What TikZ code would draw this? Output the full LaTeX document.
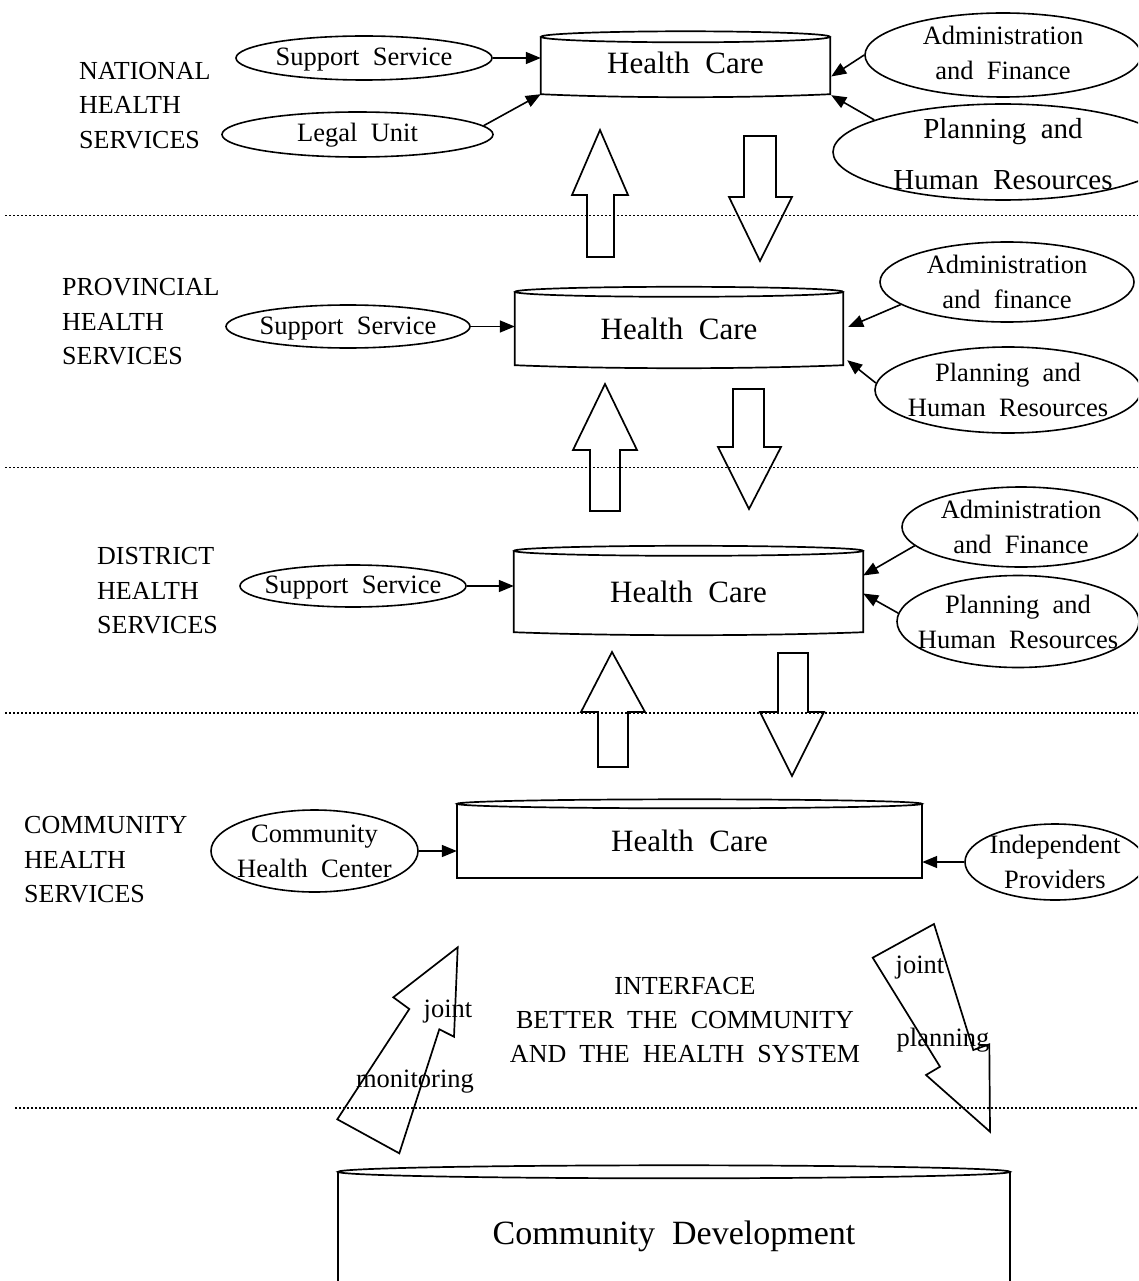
\documentclass[tikz,border=0pt]{standalone}
\usepackage{fontspec}
\setmainfont{Liberation Serif}
\usetikzlibrary{shapes.geometric,arrows.meta,calc}
\newcommand\wsp{\hspace{0.5em}}
\newcommand\fsz[2]{\fontsize{#1}{#2}\selectfont}
\newcommand\cylsides[4]{%
  \draw[outl] (#1.north west) -- (#1.south west) .. controls ($(#1.south west)+(#2*0.6,#4)$) and ($(#1.south east)+(-#2*0.6,#4)$) .. (#1.south east) -- (#1.north east);
  \draw[outl] (#1.north) ellipse [x radius=#2, y radius=#3];
}
\begin{document}
\begin{tikzpicture}[x=1pt,y=-1pt,
  outl/.style={line width=1.7pt, black},
  ell/.style={ellipse, draw, line width=1.6pt, inner sep=0pt},
  lab/.style={font=\fsz{26.5}{35}, align=center, inner sep=0pt},
  conn/.style={line width=1.6pt, -{Triangle[length=15pt,width=12pt]}},
  dots/.style={line width=1.1pt, dash pattern=on 2pt off 2pt},
  blk/.style={line width=1.7pt, line join=miter},
  lvl/.style={anchor=west, align=left, font=\fsz{26}{34.5}, inner sep=0pt},
  hc/.style={inner sep=0pt, font=\fsz{31}{36}},
  small/.style={font=\fsz{26.5}{34}, inner sep=0pt}]
\useasboundingbox (0,0) rectangle (1138,1281);
\fill[white] (0,0) rectangle (1138,1281);
\begin{scope}
\clip (0,0) rectangle (1138,1281);

% dotted separators
\draw[dots] (5,215.5) -- (1138,215.5);
\draw[dots] (5,467.5) -- (1138,467.5);
\draw[dots] (5,713) -- (1138,713);
\draw[dots] (15,1108) -- (1138,1108);

% level labels
\node[lvl] (lnat) at (79,105.5) {NATIONAL\\HEALTH\\SERVICES};
\node[lvl] (lprov) at (62,322) {PROVINCIAL\\HEALTH\\SERVICES};
\node[lvl] (ldist) at (97,591) {DISTRICT\\HEALTH\\SERVICES};
\node[lvl] (lcomm) at (24,860) {COMMUNITY\\HEALTH\\SERVICES};

% cylinders
\node[hc, minimum width=289pt, minimum height=57pt, text depth=6pt] (nat) at (685.5,65.5) {Health\wsp Care};
\cylsides{nat}{144.5}{5.5}{4}
\node[hc, minimum width=328pt, minimum height=73pt] (prov) at (679,328.5) {Health\wsp Care};
\cylsides{prov}{164}{5}{4}
\node[hc, minimum width=349pt, minimum height=81pt] (dist) at (688.5,591.5) {Health\wsp Care};
\cylsides{dist}{174.5}{5}{4}
\node[hc, minimum width=465pt, minimum height=74pt] (comm) at (689.5,841) {Health\wsp Care};
\cylsides{comm}{232.5}{4.5}{0}
\node[inner sep=0pt, font=\fsz{34}{40}, minimum width=672pt, minimum height=128pt] (dev) at (674,1236) {Community\wsp Development};
\draw[outl] (dev.north west) -- (dev.south west);
\draw[outl] (dev.north east) -- (dev.south east);
\draw[outl] (dev.north) ellipse [x radius=336, y radius=6.5];

% ellipses
\node[ell, minimum width=256pt, minimum height=44pt, label={[lab,yshift=-2pt]center:{Support\wsp Service}}] (sup1) at (364,58) {};
\node[ell, minimum width=271pt, minimum height=45pt, label={[lab,yshift=-1pt]center:{Legal\wsp Unit}}] (legal) at (357.5,134.5) {};
\node[ell, minimum width=276pt, minimum height=84pt, label={[lab,yshift=2.5pt]center:{Administration\\and\wsp Finance}}] (adm1) at (1003,55) {};
\node[ell, minimum width=340pt, minimum height=96pt, label={[lab,font=\fsz{29}{51},yshift=-2pt]center:{Planning\wsp and\\Human\wsp Resources}}] (pln1) at (1003,152) {};

\node[ell, minimum width=244pt, minimum height=43pt, label={[lab,yshift=-2pt]center:{Support\wsp Service}}] (sup2) at (348,326.5) {};
\node[ell, minimum width=254pt, minimum height=80pt, label={[lab]center:{Administration\\and\wsp finance}}] (adm2) at (1007,282) {};
\node[ell, minimum width=266pt, minimum height=86pt, label={[lab]center:{Planning\wsp and\\Human\wsp Resources}}] (pln2) at (1008,390) {};

\node[ell, minimum width=226pt, minimum height=42pt, label={[lab,yshift=-2pt]center:{Support\wsp Service}}] (sup3) at (353,586) {};
\node[ell, minimum width=238pt, minimum height=80pt, label={[lab]center:{Administration\\and\wsp Finance}}] (adm3) at (1021,527) {};
\node[ell, minimum width=242pt, minimum height=92pt, label={[lab]center:{Planning\wsp and\\Human\wsp Resources}}] (pln3) at (1018,621.5) {};

\node[ell, minimum width=207pt, minimum height=82pt, label={[lab]center:{Community\\Health\wsp Center}}] (chc) at (314.5,851) {};
\node[ell, minimum width=180pt, minimum height=76pt, label={[lab]center:{Independent\\Providers}}] (ind) at (1055,862) {};

% connectors
\draw[conn] (sup1.east) -- (sup1.east -| nat.west);
\draw[conn] (legal.4) -- (nat.south west);
\draw[conn] (adm1.west) -- ($(nat.east)+(1,11)$);
\draw[conn] (pln1.166) -- ($(nat.south east)+(1,1)$);
\draw[conn] (sup2.east) -- (sup2.east -| prov.west);
\draw[conn] (adm2.192) -- ($(prov.east)+(5,-1.5)$);
\draw[conn] (pln2.177) -- ($(prov.south east)+(4,-5)$);
\draw[conn] (sup3.east) -- (sup3.east -| dist.west);
\draw[conn] (adm3.190) -- ($(dist.east)+(0,-16)$);
\draw[conn] (pln3.176) -- ($(dist.east)+(0,2)$);
\draw[conn] (chc.east) -- (chc.east -| comm.west);
\draw[conn] (ind.west) -- (ind.west -| comm.east);

% block arrows
\draw[blk] (600,130) -- (628,195) -- (614,195) -- (614,257) -- (587,257) -- (587,195) -- (572,195) -- cycle;
\draw[blk] (744,136) -- (776,136) -- (776,197) -- (792,197) -- (760,261) -- (729,197) -- (744,197) -- cycle;
\draw[blk] (605,384) -- (637,450) -- (620,450) -- (620,511) -- (590,511) -- (590,450) -- (573,450) -- cycle;
\draw[blk] (733,389) -- (764,389) -- (764,447) -- (781,447) -- (749,509) -- (718,447) -- (733,447) -- cycle;
\draw[blk] (612,652) -- (645,712) -- (628,712) -- (628,767) -- (598,767) -- (598,712) -- (581,712) -- cycle;
\draw[blk] (778,653) -- (808,653) -- (808,712) -- (824,712) -- (792,776) -- (760,712) -- (778,712) -- cycle;

% tilted arrows
\draw[blk] (457.7,947.3) -- (454,1036.7) -- (439.3,1029.3) -- (399.3,1153.3) -- (337.3,1119.3) -- (409.3,1009) -- (393.3,997.3) -- cycle;
\draw[blk] (872.7,957.7) -- (934,924) -- (973.3,1050) -- (989.3,1044.3) -- (990,1131.7) -- (926,1075) -- (940,1066.7) -- cycle;

% texts
\node[small] (j1) at (448,1012) {joint};
\node[small] (mon) at (415,1082) {monitoring};
\node[small] (j2) at (920,968) {joint};
\node[small] (plan) at (943,1040) {planning};
\node[small, align=center, font=\fsz{26}{34}] (intf) at (685,1020) {INTERFACE\\BETTER\wsp THE\wsp COMMUNITY\\AND\wsp THE\wsp HEALTH\wsp SYSTEM};
\end{scope}
\end{tikzpicture}
\end{document}
